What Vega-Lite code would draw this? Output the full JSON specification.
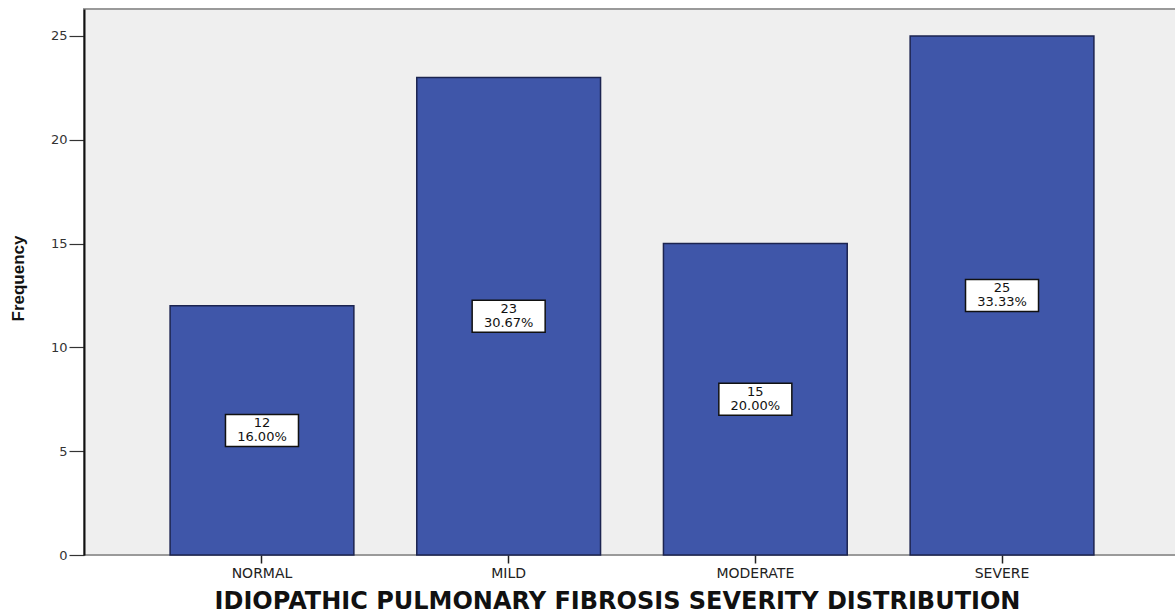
{
  "$schema": "https://vega.github.io/schema/vega-lite/v6.json",
  "width": 1096,
  "height": 546,
  "autosize": {"type": "none"},
  "padding": {"left": 84, "top": 9, "right": 0, "bottom": 60},
  "background": "white",
  "config": {
    "view": {"fill": "#efefef", "stroke": "#9a9a9a", "strokeWidth": 2},
    "font": "DejaVu Sans"
  },
  "data": {
    "values": [
      {"severity": "NORMAL", "count": 12, "share": 0.16},
      {"severity": "MILD", "count": 23, "share": 0.3067},
      {"severity": "MODERATE", "count": 15, "share": 0.20},
      {"severity": "SEVERE", "count": 25, "share": 0.3333}
    ]
  },
  "transform": [
    {"calculate": "datum.count / 2", "as": "labelPos"}
  ],
  "encoding": {
    "x": {
      "field": "severity",
      "type": "nominal",
      "sort": null,
      "scale": {"paddingInner": 0.255, "paddingOuter": 0.349},
      "axis": {
        "title": "IDIOPATHIC PULMONARY FIBROSIS SEVERITY DISTRIBUTION",
        "titleFont": "DejaVu Sans",
        "titleFontWeight": "bold",
        "titleFontSize": 24,
        "titleColor": "#111111",
        "titleX": 533,
        "titleY": 46,
        "titleBaseline": "middle",
        "labelAngle": 0,
        "labelFont": "DejaVu Sans",
        "labelFontSize": 14,
        "labelColor": "#222222",
        "labelPadding": 3,
        "tickSize": 8,
        "tickColor": "#222222",
        "tickWidth": 1.5,
        "domain": false,
        "grid": false
      }
    }
  },
  "layer": [
    {
      "mark": {"type": "bar", "fill": "#3f56a9", "stroke": "#1c2450", "strokeWidth": 1.5},
      "encoding": {
        "y": {
          "field": "count",
          "type": "quantitative",
          "scale": {"domain": [0, 26.3], "nice": false},
          "axis": {
            "title": "Frequency",
            "titleFont": "Liberation Sans",
            "titleFontWeight": "bold",
            "titleFontSize": 17,
            "titleColor": "#111111",
            "titleAngle": -90,
            "titleX": -66,
            "titleY": 269,
            "titleAlign": "center",
            "titleBaseline": "middle",
            "values": [0, 5, 10, 15, 20, 25],
            "labelFont": "DejaVu Sans",
            "labelFontSize": 13,
            "labelColor": "#333333",
            "labelPadding": 2,
            "tickSize": 15,
            "tickColor": "#333333",
            "tickWidth": 1.2,
            "domainColor": "#111111",
            "domainWidth": 2,
            "grid": false
          }
        }
      }
    },
    {
      "mark": {
        "type": "point",
        "shape": "M-1,-0.44H1V0.44H-1Z",
        "size": 5329,
        "filled": true,
        "fill": "white",
        "stroke": "#111111",
        "strokeWidth": 1.5,
        "opacity": 1
      },
      "encoding": {
        "y": {"field": "labelPos", "type": "quantitative"}
      }
    },
    {
      "mark": {"type": "text", "font": "DejaVu Sans", "fontSize": 13, "color": "#111111", "dy": -7, "baseline": "middle"},
      "encoding": {
        "y": {"field": "labelPos", "type": "quantitative"},
        "text": {"field": "count", "type": "quantitative"}
      }
    },
    {
      "mark": {"type": "text", "font": "DejaVu Sans", "fontSize": 13, "color": "#111111", "dy": 7, "baseline": "middle"},
      "encoding": {
        "y": {"field": "labelPos", "type": "quantitative"},
        "text": {"field": "share", "type": "quantitative", "format": ".2%"}
      }
    }
  ]
}
